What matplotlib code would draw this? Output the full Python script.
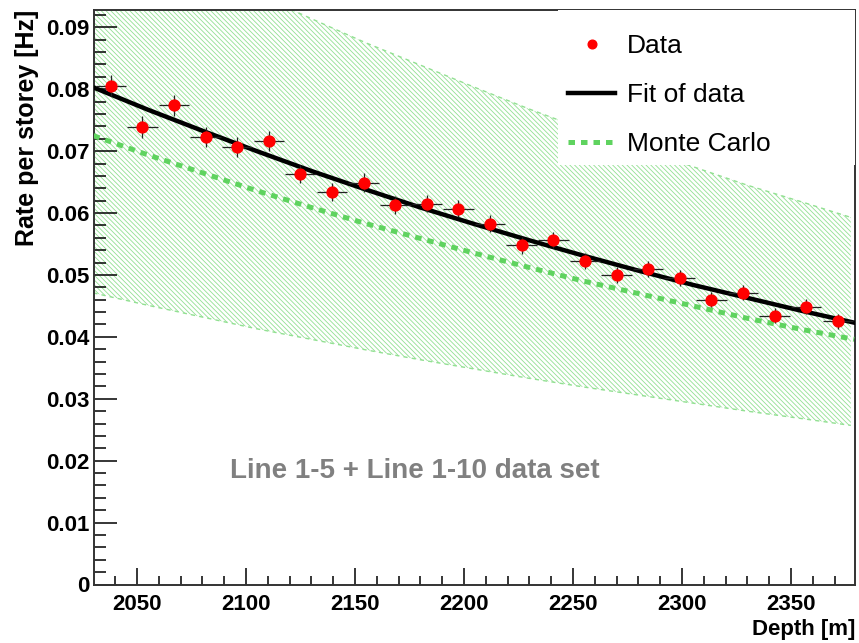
import numpy as np
import matplotlib
matplotlib.use('Agg')
import matplotlib.pyplot as plt
from matplotlib.patches import Rectangle
from matplotlib.ticker import MultipleLocator, FixedLocator, FixedFormatter

plt.rcParams['font.family'] = ['Liberation Sans', 'DejaVu Sans']
plt.rcParams['hatch.linewidth'] = 0.6

# data points (depth in m, rate in Hz)
depth = [2038, 2052.5, 2067, 2081.5, 2096, 2110.5, 2125, 2139.5, 2154, 2168.5, 2183, 2197.5,
         2212, 2226.5, 2241, 2255.5, 2270, 2284.5, 2299, 2313.5, 2328, 2342.5, 2357, 2371.5]
rate = [0.0806, 0.0739, 0.0774, 0.0723, 0.0707, 0.0716, 0.0663, 0.0634, 0.0649, 0.0613, 0.0615, 0.0607,
        0.0583, 0.0548, 0.0556, 0.0522, 0.0500, 0.0509, 0.0495, 0.0460, 0.0471, 0.0434, 0.0449, 0.0425]
rate_err = [0.0017, 0.0017, 0.0017, 0.0016, 0.0016, 0.0016, 0.0015, 0.0015, 0.0015, 0.0014, 0.0014, 0.0014,
            0.0014, 0.0014, 0.0013, 0.0013, 0.0013, 0.0013, 0.0013, 0.0012, 0.0012, 0.0012, 0.0012, 0.0012]
depth_err = 7.0

# fit of data and monte carlo curves (with band)
curve_depth = [2030, 2055, 2080, 2105, 2130, 2155, 2180, 2205, 2230, 2255, 2280, 2305, 2330, 2355, 2379]
fit_rate = [0.0803, 0.0767, 0.0733, 0.0700, 0.0668, 0.0638, 0.0609, 0.0582, 0.0556, 0.0531, 0.0507,
            0.0484, 0.0463, 0.0442, 0.0423]
mc_rate = [0.0725, 0.0694, 0.0665, 0.0636, 0.0609, 0.0583, 0.0559, 0.0535, 0.0512, 0.0490, 0.0470,
           0.0450, 0.0430, 0.0412, 0.0396]
mc_upper = [0.1088, 0.1041, 0.0998, 0.0954, 0.0914, 0.0875, 0.0839, 0.0803, 0.0768, 0.0735, 0.0705,
            0.0675, 0.0645, 0.0618, 0.0593]
mc_lower = [0.0471, 0.0451, 0.0432, 0.0413, 0.0396, 0.0379, 0.0363, 0.0348, 0.0333, 0.0319, 0.0306,
            0.0293, 0.0280, 0.0268, 0.0257]

ytick_vals = [0, 0.01, 0.02, 0.03, 0.04, 0.05, 0.06, 0.07, 0.08, 0.09]
ytick_labels = ['0', '0.01', '0.02', '0.03', '0.04', '0.05', '0.06', '0.07', '0.08', '0.09']
xtick_vals = [2050, 2100, 2150, 2200, 2250, 2300, 2350]

green = '#5fd35f'
band_green = '#92e092'

fig = plt.figure(figsize=(8.59, 6.43), dpi=100)
ax = fig.add_axes([94 / 859, 1 - 584.5 / 643, 761 / 859, 574.5 / 643])

# MC band
band_x = curve_depth[:-1] + [2377.5]
ax.fill_between(band_x, mc_lower, mc_upper, facecolor='none',
                edgecolor=band_green, hatch='\\' * 7, linewidth=0, zorder=1)
ax.plot(band_x, mc_upper, color=band_green, lw=1.0, ls=(0, (3, 3)), zorder=1)
ax.plot(band_x, mc_lower, color=band_green, lw=1.0, ls=(0, (3, 3)), zorder=1)

mc_line, = ax.plot(curve_depth, mc_rate, color=green, lw=3.6, ls=(0, (1.3, 1.2)), zorder=3)
fit_line, = ax.plot(curve_depth, fit_rate, color='black', lw=3.2, zorder=4)

ax.errorbar(depth, rate, xerr=depth_err, yerr=rate_err, fmt='none', ecolor='#222222',
            elinewidth=0.9, capsize=0, zorder=5)
data_pts, = ax.plot(depth, rate, 'o', color='#ff0000', ms=7.8, mec='#ff0000', zorder=6, ls='none')

ax.text(2092.7, 0.0183, 'Line 1-5 + Line 1-10 data set', color='#808080', fontsize=20,
        fontweight='bold', va='center', ha='left', zorder=7)

# legend box
ax.add_patch(Rectangle((0.61, 0.73), 0.39, 0.27, transform=ax.transAxes, facecolor='white',
                       edgecolor='none', zorder=8))
leg = ax.legend([data_pts, fit_line, mc_line], ['Data', 'Fit of data', 'Monte Carlo'],
                loc='upper left', bbox_to_anchor=(0.595, 0.995), frameon=False, fontsize=19,
                handlelength=1.8, handletextpad=0.45, labelspacing=0.95, borderpad=0.3,
                markerscale=0.8)
leg.set_zorder(9)

ax.set_xlim(2030.3, 2379.4)
ax.set_ylim(0, 0.0928)

ax.xaxis.set_major_locator(FixedLocator(xtick_vals))
ax.xaxis.set_minor_locator(MultipleLocator(10))
ax.yaxis.set_major_locator(FixedLocator(ytick_vals))
ax.yaxis.set_major_formatter(FixedFormatter(ytick_labels))
ax.yaxis.set_minor_locator(MultipleLocator(0.002))

ax.tick_params(axis='x', which='major', direction='in', length=12, width=1.1, pad=7)
ax.tick_params(axis='x', which='minor', direction='in', length=6.5, width=1.1)
ax.tick_params(axis='y', which='major', direction='in', length=16.5, width=1.1, pad=3)
ax.tick_params(axis='y', which='minor', direction='in', length=8.5, width=1.1)
ax.tick_params(top=False, right=False, which='both')
for lbl in ax.get_xticklabels() + ax.get_yticklabels():
    lbl.set_fontsize(16)
    lbl.set_fontweight('bold')

for s in ax.spines.values():
    s.set_linewidth(1.4)
    s.set_color('#333333')

ax.set_xlabel('Depth [m]', fontsize=16, fontweight='bold', loc='right', labelpad=3)
ax.set_ylabel('Rate per storey [Hz]', fontsize=18, fontweight='bold', loc='top', labelpad=5)

fig.savefig('out.png', dpi=100)
